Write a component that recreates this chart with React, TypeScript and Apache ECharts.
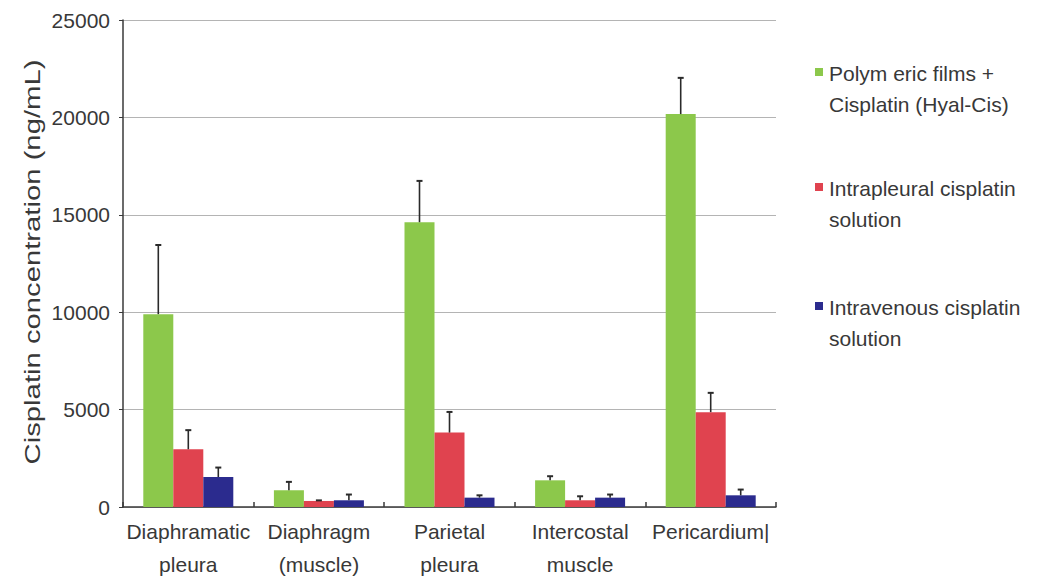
import React, { useEffect, useRef } from "react";
import * as echarts from "echarts";

const categories = [
  "Diaphramatic\npleura",
  "Diaphragm\n(muscle)",
  "Parietal\npleura",
  "Intercostal\nmuscle",
  "Pericardium|",
];
const seriesNames = [
  "Polym eric films +\nCisplatin (Hyal-Cis)",
  "Intrapleural cisplatin\nsolution",
  "Intravenous cisplatin\nsolution",
];
const yTitle = "Cisplatin concentration (ng/mL)";
const hyalCis = [9900, 860, 14620, 1370, 20170];
const hyalCisUpper = [13450, 1290, 16740, 1580, 22030];
const intrapleural = [2965, 310, 3820, 345, 4870];
const intrapleuralUpper = [3945, 340, 4880, 550, 5860];
const intravenous = [1540, 345, 480, 480, 600];
const intravenousUpper = [2025, 640, 600, 640, 895];
const yTicks = [0, 5000, 10000, 15000, 20000, 25000];

const colors = ["#8cc84b", "#e0434f", "#2b2b8e"];
const FONT = "Liberation Sans, Arial, sans-serif";

export default function App() {
  const ref = useRef<HTMLDivElement>(null);
  useEffect(() => {
    if (!ref.current) return;
    const chart = echarts.init(ref.current, undefined, { renderer: "svg" });
    const values = [hyalCis, intrapleural, intravenous];
    const uppers = [hyalCisUpper, intrapleuralUpper, intravenousUpper];
    const barWidth = 30;

    const barSeries = values.map((v, i) => ({
      type: "bar",
      name: seriesNames[i],
      data: v,
      barWidth,
      barGap: "0%",
      itemStyle: { color: colors[i] },
      z: 2,
    }));

    const errSeries = values.map((v, i) => ({
      type: "custom",
      name: "err" + i,
      data: v.map((val, k) => [k, val, uppers[i][k]]),
      encode: { x: 0, y: [1, 2] },
      z: 3,
      renderItem: (params: any, api: any) => {
        const base = api.coord([api.value(0), api.value(1)]);
        const top = api.coord([api.value(0), api.value(2)]);
        const x = base[0] + (i - 1) * barWidth;
        return {
          type: "group",
          children: [
            {
              type: "line",
              shape: { x1: x, y1: base[1], x2: x, y2: top[1] },
              style: { stroke: "#2a2a2a", lineWidth: 1.6 },
            },
            {
              type: "line",
              shape: { x1: x - 3, y1: top[1], x2: x + 3, y2: top[1] },
              style: { stroke: "#2a2a2a", lineWidth: 2 },
            },
          ],
        };
      },
    }));

    const legendCenters = [73, 188, 307];
    const graphic: any[] = [];
    seriesNames.forEach((n, i) => {
      graphic.push({
        type: "rect",
        left: 815,
        top: legendCenters[i] - 5,
        shape: { width: 8, height: 8 },
        style: { fill: colors[i] },
      });
      graphic.push({
        type: "text",
        left: 829,
        top: legendCenters[i] - 15.5,
        style: {
          text: n,
          font: `21px ${FONT}`,
          fill: "#383838",
          lineHeight: 31,
        },
      });
    });
    graphic.push({
      type: "text",
      x: 32,
      y: 262,
      rotation: Math.PI / 2,
      scaleX: 1.33,
      style: {
        text: yTitle,
        font: `22px ${FONT}`,
        fill: "#383838",
        align: "center",
        verticalAlign: "middle",
      },
    });

    chart.setOption({
      animation: false,
      textStyle: { fontFamily: FONT },
      grid: {
        left: 123,
        right: 1043 - 776,
        top: 20,
        bottom: 576 - 507,
        containLabel: false,
        outerBoundsMode: "none",
      },
      xAxis: {
        type: "category",
        data: categories,
        axisLine: { lineStyle: { color: "#3a3a3a", width: 1.5 } },
        axisTick: { show: true, inside: true, length: 5, alignWithLabel: false, lineStyle: { color: "#3a3a3a", width: 1.5 } },
        axisLabel: {
          color: "#383838",
          fontSize: 21,
          lineHeight: 33,
          margin: 8,
          interval: 0,
          fontFamily: FONT,
        },
      },
      yAxis: {
        type: "value",
        min: 0,
        max: 25000,
        interval: 5000,
        axisLine: { show: true, lineStyle: { color: "#3a3a3a", width: 1.5 } },
        axisTick: { show: true, length: 4, lineStyle: { color: "#3a3a3a" } },
        axisLabel: {
          color: "#383838",
          fontSize: 21,
          margin: 13,
          fontFamily: FONT,
          formatter: (v: number) => String(v),
          customValues: yTicks,
        },
        splitLine: { show: true, lineStyle: { color: "#b4b4b4", width: 1.2 } },
      },
      series: [...barSeries, ...errSeries],
      graphic,
    });
    return () => chart.dispose();
  }, []);
  return (
    <div
      ref={ref}
      style={{ position: "fixed", left: 0, top: 0, width: 1043, height: 576, background: "#fff" }}
    />
  );
}
